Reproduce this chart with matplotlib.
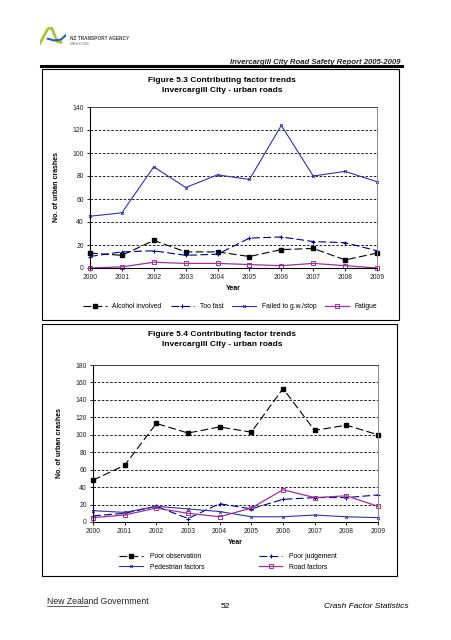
import matplotlib
matplotlib.use("Agg")
import matplotlib.pyplot as plt
from matplotlib.patches import Rectangle
from matplotlib.lines import Line2D

plt.rcParams['font.family'] = ['Liberation Sans', 'DejaVu Sans']

W, H = 452, 640

# data
years = [2000, 2001, 2002, 2003, 2004, 2005, 2006, 2007, 2008, 2009]

alcohol = [13, 11, 24, 14, 14, 10, 16, 17, 7, 13]
too_fast = [10, 14, 15, 11, 12, 26, 27, 23, 22, 15]
failed_gw = [45, 48, 88, 70, 81, 77, 124, 80, 84, 75]
fatigue = [0, 1, 5, 4, 4, 3, 2, 4, 2, 0]

poor_obs = [48, 65, 113, 102, 109, 103, 153, 105, 111, 100]
poor_judge = [7, 10, 18, 4, 21, 15, 26, 28, 28, 31]
pedestrian = [13, 11, 18, 15, 12, 6, 6, 8, 6, 5]
road = [5, 8, 16, 10, 6, 16, 37, 28, 30, 18]

navy = '#000080'
blue = '#333399'
purple = '#993399'


def fx(x):
    return x / W


def fy(y):
    return 1 - y / H


fig = plt.figure(figsize=(W / 100, H / 100), dpi=100)

# page decoration
fig.add_artist(Line2D([fx(41), fx(402)], [fy(66), fy(66)], color='black', lw=2.2))
fig.add_artist(Rectangle((fx(42), fy(320)), fx(399) - fx(42), fy(69) - fy(320),
                         fill=False, ec='black', lw=0.8))
fig.add_artist(Rectangle((fx(42), fy(576)), fx(397) - fx(42), fy(324) - fy(576),
                         fill=False, ec='black', lw=0.8))

fig.text(fx(400), fy(62), 'Invercargill City Road Safety Report 2005-2009',
         ha='right', va='center', fontsize=5.6, fontweight='bold', style='italic', color='#222222')

# logo (rough)
logo = fig.add_axes([fx(40), fy(45), fx(26), fy(27) - fy(45)])
logo.axis('off')
logo.plot([0, 0.3, 0.45, 0.55, 0.65, 0.8], [0.1, 0.9, 0.95, 0.6, 0.2, 0.15], color='#a8c23a', lw=2)
logo.plot([0.3, 0.55, 0.8, 1.0], [0.35, 0.25, 0.3, 0.55], color='#2b5fa6', lw=1.5)
logo.set_xlim(0, 1)
logo.set_ylim(0, 1)
fig.text(fx(70), fy(39), 'NZ TRANSPORT AGENCY', fontsize=3.4, color='#444444', va='center',
         fontweight='bold')
fig.text(fx(70), fy(44), 'WAKA KOTAHI', fontsize=2, color='#777777', va='center')

# footer
fig.text(fx(47), fy(601), 'New Zealand Government', fontsize=6.2, color='#222222',
         va='center')
fig.add_artist(Line2D([fx(47), fx(88)], [fy(606), fy(606)], color='#222222', lw=0.5))
fig.text(fx(225), fy(606), '52', fontsize=6, ha='center', va='center')
fig.text(fx(409), fy(606), 'Crash Factor Statistics', fontsize=6, style='italic',
         ha='right', va='center')


def style_axes(ax, ymax):
    ax.set_xlim(2000, 2009)
    ax.set_ylim(0, ymax)
    ax.set_xticks(years)
    ax.set_yticks(range(0, ymax + 1, 20))
    ax.tick_params(labelsize=4.9, length=2.5, width=0.6, pad=2, labelcolor='#222222')
    for y in range(20, ymax, 20):
        ax.axhline(y, color='black', lw=0.6, ls=(0, (3, 2)), zorder=0)
    ax.spines['left'].set_linewidth(0.8)
    ax.spines['bottom'].set_linewidth(0.8)
    ax.spines['top'].set_color('#444444')
    ax.spines['right'].set_color('#888888')
    ax.spines['top'].set_linewidth(0.7)
    ax.spines['right'].set_linewidth(0.7)
    ax.set_xlabel('Year', fontsize=5, fontweight='bold', labelpad=3)
    ax.set_ylabel('No. of urban crashes', fontsize=5, fontweight='bold', labelpad=9)


# Figure 5.3
ax1 = fig.add_axes([fx(90), fy(268), fx(377) - fx(90), fy(107) - fy(268)])
ax1.plot(years, alcohol, color='black', lw=0.8, ls=(0, (7, 3)), marker='s', ms=2.2,
         label='Alcohol involved', clip_on=False)
ax1.plot(years, too_fast, color=navy, lw=0.8, ls=(0, (7, 3)), marker='+', ms=3.5, mew=0.8,
         label='Too fast', clip_on=False)
ax1.plot(years, failed_gw, color=blue, lw=0.8, marker='x', ms=2, mew=0.7,
         label='Failed to g.w./stop', clip_on=False)
ax1.plot(years, fatigue, color=purple, lw=0.9, marker='s', ms=3, mfc='none', mew=0.7,
         label='Fatigue', clip_on=False)
style_axes(ax1, 140)
fig.text(fx(222), fy(80), 'Figure 5.3 Contributing factor trends', ha='center', va='center',
         fontsize=6, fontweight='bold')
fig.text(fx(222), fy(91), 'Invercargill City - urban roads', ha='center', va='center',
         fontsize=6, fontweight='bold')
fig.legend(*ax1.get_legend_handles_labels(), loc='center', bbox_to_anchor=(fx(230), fy(307)),
           ncol=4, frameon=False, fontsize=4.9, handlelength=3.5, columnspacing=1.3,
           handletextpad=0.8)

# Figure 5.4
ax2 = fig.add_axes([fx(93), fy(522), fx(378) - fx(93), fy(365) - fy(522)])
l1, = ax2.plot(years, poor_obs, color='black', lw=0.8, ls=(0, (7, 3)), marker='s', ms=2.2,
               label='Poor observation', clip_on=False)
l2, = ax2.plot(years, poor_judge, color=navy, lw=0.8, ls=(0, (7, 3)), marker='+', ms=3.5,
               mew=0.8, label='Poor judgement', clip_on=False)
l3, = ax2.plot(years, pedestrian, color=blue, lw=0.8, marker='x', ms=2, mew=0.7,
               label='Pedestrian factors', clip_on=False)
l4, = ax2.plot(years, road, color=purple, lw=0.9, marker='s', ms=3, mfc='none', mew=0.7,
               label='Road factors', clip_on=False)
style_axes(ax2, 180)
fig.text(fx(222), fy(334), 'Figure 5.4 Contributing factor trends', ha='center', va='center',
         fontsize=6, fontweight='bold')
fig.text(fx(222), fy(345), 'Invercargill City - urban roads', ha='center', va='center',
         fontsize=6, fontweight='bold')
fig.legend([l1, l3, l2, l4], [l1.get_label(), l3.get_label(), l2.get_label(), l4.get_label()],
           loc='center', bbox_to_anchor=(fx(228), fy(562)), ncol=2, frameon=False,
           fontsize=4.9, handlelength=3.5, columnspacing=8, handletextpad=1.0,
           labelspacing=0.5)

fig.savefig('out.png', dpi=100)
